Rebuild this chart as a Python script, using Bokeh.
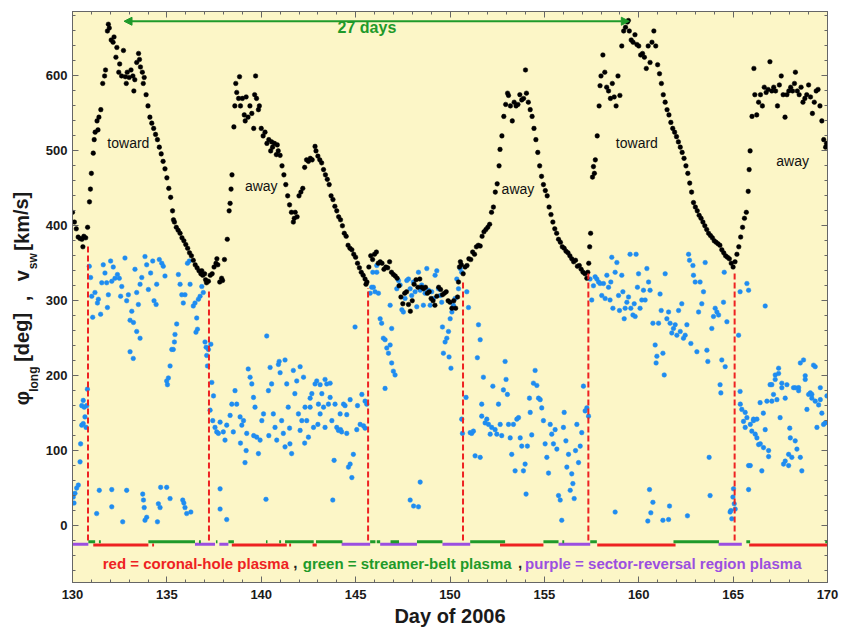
from bokeh.plotting import figure
from bokeh.models import Range1d, LinearAxis, Label, Arrow, NormalHead, FixedTicker
from bokeh.layouts import row
from bokeh.core.properties import value
from bokeh.embed import file_html
from bokeh.resources import INLINE

# ---------------- data ----------------
# solar-wind speed v_sw [km/s] : (day of 2006, value)
vsw_points = [
    (130.0,418),(130.1,405),(130.2,396),(130.3,385),(130.4,383),(130.5,382),(130.55,372),(130.6,386),(130.7,384),(130.8,398),
    (130.9,432),(130.95,449),(131.0,470),(131.1,497),(131.15,515),(131.2,525),(131.3,540),(131.35,528),(131.4,545),(131.5,555),
    (131.6,590),(131.7,600),(131.75,608),(131.85,660),(131.9,669),(131.95,664),(132.05,648),(132.15,645),(132.2,652),(132.3,625),
    (132.35,638),(132.45,605),(132.5,616),(132.6,600),(132.7,634),(132.8,599),(132.85,590),(132.9,605),(133.0,598),(133.1,608),
    (133.2,600),(133.25,580),(133.3,595),(133.4,618),(133.5,630),(133.55,622),(133.6,612),(133.7,605),(133.75,590),(133.8,598),
    (133.9,575),(134.0,560),(134.1,545),(134.2,537),(134.3,530),(134.4,522),(134.5,515),(134.6,505),(134.7,496),(134.8,486),
    (134.9,476),(135.0,464),(135.1,450),(135.2,438),(135.3,420),(135.35,408),(135.4,405),(135.5,398),(135.6,394),(135.7,390),
    (135.8,384),(135.9,380),(136.0,375),(136.1,370),(136.2,364),(136.3,360),(136.4,354),(136.5,348),(136.6,344),(136.7,340),
    (136.8,336),(136.85,340),(136.9,334),(137.0,336),(137.05,328),(137.1,324),(137.2,326),(137.3,334),(137.4,336),(137.5,345),
    (137.6,350),(137.65,356),(137.7,348),(137.8,325),(137.9,330),(137.95,327),(138.05,355),(138.2,382),(138.3,420),(138.35,430),
    (138.4,449),(138.45,468),(138.55,532),(138.6,560),(138.65,590),(138.7,578),(138.8,570),(138.85,599),(138.9,560),(139.0,570),
    (139.1,548),(139.15,540),(139.2,572),(139.3,545),(139.4,560),(139.5,550),(139.6,530),(139.65,575),(139.7,600),(139.75,570),
    (139.85,555),(139.9,560),(140.0,530),(140.1,520),(140.2,525),(140.3,510),(140.4,515),(140.5,500),(140.55,512),(140.6,505),
    (140.7,510),(140.8,495),(140.85,508),(140.9,500),(141.0,494),(141.1,480),(141.2,468),(141.3,455),(141.4,440),(141.5,428),
    (141.6,418),(141.7,405),(141.75,410),(141.8,418),(141.9,412),(142.0,440),(142.1,445),(142.2,450),(142.3,478),(142.4,488),
    (142.5,486),(142.6,490),(142.7,488),(142.85,506),(142.9,500),(143.0,493),(143.1,488),(143.2,484),(143.3,475),(143.4,468),
    (143.5,462),(143.6,455),(143.7,440),(143.8,435),(143.9,426),(144.0,420),(144.1,412),(144.2,408),(144.3,400),(144.4,390),
    (144.5,386),(144.6,374),(144.7,370),(144.8,368),(144.9,362),(145.0,358),(145.1,350),(145.2,344),(145.3,338),(145.4,334),
    (145.5,329),(145.55,322),(145.6,325),(145.7,345),(145.8,360),(145.9,355),(146.0,362),(146.1,365),(146.2,350),(146.3,352),
    (146.4,350),(146.5,342),(146.6,345),(146.7,344),(146.8,352),(146.9,338),(147.0,335),(147.1,333),(147.2,330),(147.3,320),
    (147.4,305),(147.5,296),(147.6,310),(147.7,312),(147.8,295),(147.9,286),(148.0,300),(148.1,322),(148.2,328),(148.3,318),
    (148.4,329),(148.5,318),(148.6,316),(148.7,318),(148.8,310),(148.9,312),(149.0,303),(149.1,300),(149.2,294),(149.3,306),
    (149.4,318),(149.5,315),(149.6,308),(149.7,310),(149.8,312),(149.9,300),(150.0,298),(150.1,290),(150.2,300),(150.3,290),
    (150.4,305),(150.45,325),(150.5,345),(150.55,352),(150.6,348),(150.7,336),(150.8,345),(150.9,347),(151.0,356),(151.1,355),
    (151.2,365),(151.3,362),(151.4,372),(151.5,374),(151.6,373),(151.7,386),(151.8,392),(151.9,395),(152.0,398),(152.1,402),
    (152.2,418),(152.3,425),(152.4,445),(152.5,456),(152.6,480),(152.65,502),(152.75,520),(152.85,546),(152.95,562),(153.05,577),
    (153.1,574),(153.2,560),(153.3,540),(153.4,565),(153.5,560),(153.6,562),(153.7,575),(153.8,568),(153.9,570),(154.0,608),
    (154.05,577),(154.15,565),(154.25,555),(154.35,546),(154.45,530),(154.55,515),(154.65,498),(154.75,480),(154.85,466),(154.95,455),
    (155.05,447),(155.15,440),(155.25,425),(155.35,415),(155.45,405),(155.55,396),(155.65,390),(155.75,382),(155.85,378),(155.95,372),
    (156.05,370),(156.15,366),(156.25,364),(156.35,360),(156.45,356),(156.55,352),(156.65,354),(156.75,346),(156.85,347),(156.95,342),
    (157.05,338),(157.15,336),(157.25,330),(157.3,338),(157.35,350),(157.4,372),(157.45,390),(157.55,465),(157.6,479),(157.65,470),
    (157.7,488),(157.8,520),(157.9,560),(157.95,587),(158.0,600),(158.1,628),(158.2,605),(158.3,585),(158.4,580),(158.5,570),
    (158.6,590),(158.7,572),(158.8,560),(158.9,600),(159.0,574),(159.1,640),(159.2,660),(159.3,665),(159.4,672),(159.45,674),
    (159.5,660),(159.6,648),(159.7,645),(159.8,655),(159.9,642),(160.0,640),(160.1,628),(160.2,630),(160.3,625),(160.4,610),
    (160.5,640),(160.6,618),(160.7,645),(160.8,660),(160.9,640),(161.0,615),(161.1,603),(161.2,590),(161.3,575),(161.4,565),
    (161.5,555),(161.6,548),(161.7,538),(161.8,530),(161.9,525),(162.0,519),(162.1,512),(162.2,505),(162.3,498),(162.4,490),
    (162.5,480),(162.6,470),(162.7,457),(162.8,445),(162.9,431),(163.0,425),(163.1,420),(163.2,414),(163.3,410),(163.4,405),
    (163.5,400),(163.6,395),(163.7,390),(163.8,387),(163.9,384),(164.0,380),(164.1,378),(164.2,376),(164.3,374),(164.4,368),
    (164.5,364),(164.6,360),(164.7,358),(164.8,356),(164.9,350),(165.0,345),(165.1,352),(165.2,362),(165.3,372),(165.4,385),
    (165.5,398),(165.6,410),(165.7,418),(165.8,446),(165.85,475),(165.9,500),(166.0,546),(166.1,610),(166.15,575),(166.25,548),
    (166.35,565),(166.45,575),(166.55,560),(166.65,585),(166.75,578),(166.85,582),(166.95,619),(167.05,580),(167.15,585),(167.25,580),
    (167.35,560),(167.45,588),(167.55,600),(167.65,575),(167.75,545),(167.85,575),(167.95,580),(168.05,585),(168.15,580),(168.25,590),
    (168.3,605),(168.4,580),(168.5,575),(168.6,585),(168.7,565),(168.8,570),(168.9,575),(169.0,588),(169.1,572),(169.2,550),
    (169.3,565),(169.4,580),(169.5,582),(169.6,560),(169.7,540),(169.8,515),(169.9,505),(169.95,510),
]

# magnetic-field longitude phi_long [deg] : (day of 2006, value)
phi_points = [
    (130.04,38),(130.08,30),(130.13,43),(130.22,50),(130.31,54),(130.4,85),(130.43,109),(130.49,134),(130.57,136),(130.66,145),
    (130.49,160),(130.57,167),(130.75,160),(130.79,182),(130.72,131),(130.62,158),
    (130.89,346),(130.96,331),(131.02,306),(131.07,278),(131.19,311),(131.32,297),(131.37,302),(131.49,282),(131.55,324),(131.63,348),
    (131.72,337),(131.81,324),(131.85,291),(131.9,308),(132.02,353),(132.08,326),(132.16,345),(132.25,330),(132.38,335),(132.48,330),
    (132.55,306),(132.61,319),(132.78,357),(132.87,300),(132.96,308),(133.05,274),(133.14,286),(133.23,271),(133.31,342),(133.4,311),
    (133.49,295),(133.58,322),(133.67,331),(133.84,359),(133.93,348),(134.02,315),(134.14,337),(134.25,353),(134.32,300),(134.43,295),
    (134.46,322),(134.6,355),(134.73,350),(134.81,346),(134.9,333),(134.99,193),(135.03,188),(135.17,213),(135.26,235),(135.34,235),
    (135.43,255),(135.52,269),(135.61,335),(135.7,322),(135.79,308),(135.87,297),(135.96,308),(136.09,350),(136.19,353),(136.23,322),
    (136.4,293),(136.49,297),(136.58,277),(136.67,302),(136.76,306),(136.85,319),(136.93,311),(137.08,238),(137.11,227),(137.2,235),
    (137.33,242),(137.15,213),(136.54,258),(133.05,232),(133.22,223),(133.4,259),(133.58,250),(135.08,197),(135.4,245),(136.62,262),
    (137.02,245),
    (131.42,47),(131.28,16),(132.08,48),(132.08,25),(132.66,5),(132.87,47),(133.72,42),(133.76,34),(133.8,24),(133.84,7),
    (133.93,11),(134.55,29),(134.64,24),(134.67,51),(134.99,51),(135.17,36),(135.84,34),(135.96,24),(136.05,16),(136.27,18),
    (134.5,5),(135.9,30),
    (137.38,191),(137.29,154),(137.47,173),(137.43,140),(137.55,131),(137.64,125),(137.73,123),(137.82,138),(137.99,125),(138.08,114),
    (138.17,134),(138.35,147),(138.44,162),(138.52,125),(138.61,180),(138.7,162),(138.88,145),(138.97,134),(139.06,140),(139.14,84),
    (139.23,123),(139.31,209),(139.41,198),(139.5,189),(139.59,171),(139.67,158),(139.76,118),(139.85,96),(139.94,114),(140.03,140),
    (140.12,149),(140.25,35),(140.29,253),(140.38,180),(140.47,211),(140.55,189),(140.64,149),(140.73,131),(140.82,114),(140.91,215),
    (141.0,204),(141.08,140),(141.17,123),(141.26,105),(141.35,189),(141.43,158),(141.52,109),(141.61,96),(141.7,207),(141.78,176),
    (141.88,193),(141.97,149),(142.06,127),(142.15,140),(142.24,198),(142.32,158),(142.41,140),(142.5,118),(142.59,158),(142.68,176),
    (142.77,131),(142.85,189),(142.94,193),(143.03,162),(143.12,149),(143.21,176),(143.3,158),(143.38,131),(143.47,189),(143.56,162),
    (143.65,171),(143.74,140),(143.79,34),(143.86,87),(143.91,162),(144.0,131),(144.09,127),(144.18,149),(144.26,125),(144.36,162),
    (144.44,160),(144.53,123),(144.62,78),(144.71,82),(144.8,64),(144.88,95),(144.97,265),(145.06,128),(145.24,135),(145.33,175),
    (145.42,133),(145.5,166),(145.59,162),(144.53,148),(144.71,168),(143.65,190),(143.38,195),(143.12,188),(142.59,170),(142.06,212),
    (141.26,221),(140.95,219),(137.82,49),(137.82,22),(138.17,8),(141.5,130),(140.4,120),(139.2,100),(138.9,110),(139.6,120),
    (142.3,110),(143.0,135),(144.2,128),(145.1,160),(145.5,130),
    (145.77,310),(145.85,318),(145.94,318),(146.03,312),(145.91,338),(146.12,338),(146.21,310),(146.12,347),(146.3,276),(146.38,270),
    (146.47,250),(146.56,248),(146.65,237),(146.74,230),(146.83,241),(146.91,217),(147.0,206),(147.09,201),(146.56,183),(146.91,263),
    (146.83,294),(147.18,316),(147.27,327),(147.36,321),(147.45,288),(147.53,285),(147.62,303),(147.71,327),(147.8,329),(147.89,316),
    (147.97,307),(148.06,325),(148.15,312),(148.24,292),(148.33,338),(148.42,314),(148.5,321),(148.59,294),(148.68,310),(148.77,343),
    (148.86,314),(148.95,294),(149.03,312),(149.12,303),(149.21,334),(149.3,340),(149.39,316),(149.48,307),(149.56,298),(149.65,230),
    (149.74,245),(149.83,250),(149.92,259),(150.01,276),(150.1,285),(150.18,294),(150.27,303),(150.36,329),(150.45,316),(150.54,343),
    (150.62,338),(150.89,312),(150.98,291),(149.6,265),(150.05,210),(149.95,225),
    (147.89,34),(148.07,26),(148.33,25),(148.42,58),
    (150.62,142),(150.66,123),(150.85,171),(151.07,124),(151.15,123),(151.24,126),(151.33,93),(151.51,268),(151.6,248),(151.45,224),
    (151.6,91),(151.68,162),(151.77,198),(151.68,146),(151.86,137),(151.95,142),(152.04,135),(152.13,122),(152.21,131),(152.27,186),
    (152.39,128),(152.48,122),(152.57,162),(152.66,135),(152.74,120),(152.83,181),(152.92,219),(152.97,195),(153.04,175),(153.1,135),
    (153.19,117),(153.27,95),(153.36,135),(153.45,73),(153.54,142),(153.63,144),(153.72,117),(153.8,106),(153.89,73),(153.98,82),
    (154.03,42),(154.1,106),(154.21,170),(154.25,151),(154.33,121),(154.42,190),(154.51,207),(154.6,187),(154.69,170),(154.78,168),
    (154.86,157),(154.95,140),(155.04,109),(155.13,91),(155.22,70),(155.31,135),(155.39,122),(155.48,109),(155.57,128),(155.66,102),
    (155.75,40),(155.84,34),(155.92,7),(156.01,131),(156.05,151),(156.14,113),(156.19,78),(156.28,95),(156.37,47),(156.45,69),
    (156.51,56),(156.58,36),(156.65,100),(156.72,135),(156.81,84),(156.9,106),(156.98,124),(157.07,186),(157.16,153),(157.25,157),
    (157.34,146),
    (157.42,329),(157.51,301),(157.6,320),(157.69,332),(157.78,329),(157.87,325),(157.95,323),(158.04,307),(158.13,323),(158.22,303),
    (158.31,334),(158.4,318),(158.48,301),(158.52,325),(158.57,358),(158.63,290),(158.75,338),(158.84,351),(158.93,307),(158.98,287),
    (159.1,334),(159.16,312),(159.23,276),(159.28,290),(159.37,298),(159.46,305),(159.54,362),(159.58,290),(159.69,281),(159.76,296),
    (159.81,279),(159.86,362),(159.93,318),(159.99,336),(160.07,290),(160.16,301),(160.25,314),(160.34,301),(160.43,343),(160.52,325),
    (160.6,314),(160.75,270),(160.87,241),(160.92,217),(160.96,226),(161.05,270),(161.13,309),(161.19,287),(161.28,230),(161.35,201),
    (161.4,336),(161.49,276),(161.58,285),(161.66,270),(161.75,257),(161.84,263),(161.93,268),(162.02,254),(162.11,287),(162.2,259),
    (162.28,296),(162.37,250),(162.46,254),(162.55,268),(162.64,362),(162.69,354),(162.76,243),(162.87,347),(162.9,334),(162.99,325),
    (163.08,232),(163.17,285),(163.25,325),(163.34,296),(163.43,312),(163.52,351),(163.61,234),(163.66,219),(163.73,91),(163.78,40),
    (163.87,263),(163.96,279),(164.05,290),(164.14,285),(164.23,281),(164.31,188),(164.35,177),(164.4,221),(164.49,298),(164.53,338),
    (164.58,212),(164.67,272),
    (158.75,18),(160.57,48),(160.75,31),(160.64,17),(160.48,6),(161.28,7),(161.58,8),(161.63,26),(162.58,13),(164.84,18),
    (164.88,20),(164.99,38),(165.02,49),(165.06,29),(164.93,9),(165.11,22),
    (165.29,254),(165.37,312),(165.73,323),(165.82,314),(166.7,293),(165.82,48),(165.37,179),
    (165.46,155),(165.55,139),(165.64,131),(165.73,144),(165.82,80),(165.91,135),(165.99,126),(166.08,142),(166.17,122),(166.26,142),
    (166.35,108),(166.43,164),(166.52,73),(166.61,104),(166.7,128),(166.79,166),(166.88,100),(166.96,188),(167.05,166),(167.14,175),
    (167.23,201),(167.32,168),(167.41,203),(167.49,144),(167.58,184),(167.67,82),(167.76,170),(167.85,188),(167.94,80),(168.03,117),
    (168.11,91),(168.2,184),(168.29,113),(168.38,102),(168.47,184),(168.56,91),(168.64,73),(168.73,221),(168.82,195),(168.91,155),
    (169.0,175),(169.09,177),(169.17,175),(169.26,214),(169.35,166),(169.44,131),(169.53,161),(169.62,168),(169.79,135),(169.97,173),
    (165.38,162),(165.64,151),(165.91,80),(166.08,140),(166.26,117),(166.44,109),(166.88,92),(167.05,188),(167.23,195),(167.41,210),
    (167.58,190),(167.76,86),(167.94,95),(168.29,184),(168.47,180),(168.56,217),(168.82,200),(169.17,170),(169.35,212),(169.62,184),
    (169.88,137),(169.7,150),(168.0,130),(166.6,150),
]

# sector boundaries (red dashed lines): day and upper end [units of y axis]
boundary_day = [130.82, 137.23, 145.66, 150.69, 157.33, 165.08]
boundary_top = [373, 313, 317, 327, 340, 338]

# plasma-type intervals (day start, day end)
purple_intervals = [(130.0,130.84),(136.49,137.55),(137.78,138.26),(144.26,145.77),(146.3,148.25),
                    (149.6,151.07),(155.75,157.43),(164.23,165.46)]
red_intervals = [(131.1,134.02),(134.22,134.32),(138.44,141.35),(141.48,141.58),(142.72,142.94),
                 (152.65,154.95),(157.8,161.95),(165.85,170.0)]
green_intervals = [(130.84,131.2),(131.4,131.5),(134.02,136.49),(136.7,136.8),(137.6,137.68),(138.26,138.55),
                   (140.25,140.33),(140.95,141.05),(141.26,142.78),(142.9,144.3),(145.77,146.05),(146.12,146.3),
                   (146.85,147.3),(148.25,149.6),(151.07,152.92),(154.95,155.75),(155.95,156.05),(157.43,157.78),
                   (161.84,164.25),(165.7,165.9),(169.88,170.0)]

x_ticks = [130, 135, 140, 145, 150, 155, 160, 165, 170]
y_ticks = [0, 100, 200, 300, 400, 500, 600]

# ---------------- figure ----------------
BG = "#fcf6c7"
FONT = "Liberation Sans"
GREEN = "#1f9a2a"
RED = "#ee2222"
PURPLE = "#9b4fe0"
BLUE = "#1f8cf0"
INK = "#1a1a1a"

p = figure(width=802, height=629, x_range=Range1d(130, 170), y_range=Range1d(-76, 686),
           output_backend="svg", toolbar_location=None,
           min_border_left=32, min_border_right=15, min_border_top=11, min_border_bottom=43,
           background_fill_color=BG, border_fill_color="white")
p.xgrid.visible = False
p.ygrid.visible = False
p.outline_line_color = "#666666"
p.outline_line_width = 1


def style_axis(ax, ticks, minor, labels=True):
    ax.ticker = FixedTicker(ticks=ticks, minor_ticks=minor)
    ax.major_tick_in = 6
    ax.major_tick_out = 0
    ax.minor_tick_in = 3
    ax.minor_tick_out = 0
    ax.axis_line_color = "#666666"
    ax.major_tick_line_color = "#666666"
    ax.minor_tick_line_color = "#666666"
    ax.major_label_text_font = FONT
    ax.major_label_text_font_style = "bold"
    ax.major_label_text_color = INK
    ax.major_label_text_font_size = "13px"
    if not labels:
        ax.major_label_overrides = {t: "" for t in ticks}
        ax.major_label_text_font_size = "1px"
        ax.major_label_standoff = 0


x_minor = list(range(130, 171))
y_minor = list(range(-60, 681, 20))
style_axis(p.xaxis[0], x_ticks, x_minor)
style_axis(p.yaxis[0], y_ticks, y_minor)
p.yaxis[0].major_label_standoff = 5
p.xaxis[0].major_label_standoff = 7
p.xaxis[0].axis_label = "Day of 2006"
p.xaxis[0].axis_label_text_font = FONT
p.xaxis[0].axis_label_text_font_style = "bold"
p.xaxis[0].axis_label_text_font_size = "20px"
p.xaxis[0].axis_label_text_color = INK
p.xaxis[0].axis_label_standoff = 3

ax_r = LinearAxis()
style_axis(ax_r, y_ticks, y_minor, labels=False)
p.add_layout(ax_r, "right")
ax_t = LinearAxis()
style_axis(ax_t, x_ticks, x_minor, labels=False)
p.add_layout(ax_t, "above")

# phi points (blue) then v_sw points (black)
p.scatter([d for d, v in phi_points], [v for d, v in phi_points], size=4.6,
          fill_color=BLUE, line_color=BLUE, line_width=0.5)
p.scatter([d for d, v in vsw_points], [v for d, v in vsw_points], size=4.6,
          fill_color="black", line_color="black", line_width=0.5)

# sector-boundary dashed lines
p.segment(x0=boundary_day, y0=[-20] * len(boundary_day), x1=boundary_day, y1=boundary_top,
          line_color=RED, line_width=2, line_dash="6 3")

# plasma-type bars
for intervals, yv, col in ((purple_intervals, -25, PURPLE), (red_intervals, -26, RED),
                           (green_intervals, -21.5, GREEN)):
    p.segment(x0=[a for a, b in intervals], y0=[yv] * len(intervals),
              x1=[b for a, b in intervals], y1=[yv] * len(intervals),
              line_color=col, line_width=3)

# 27 days arrow
p.add_layout(Arrow(start=NormalHead(size=8, fill_color=GREEN, line_color=GREEN),
                   end=NormalHead(size=8, fill_color=GREEN, line_color=GREEN),
                   x_start=132.73, y_start=673, x_end=159.5, y_end=673,
                   line_color=GREEN, line_width=2))
p.add_layout(Label(x=145.6, y=664, text="27 days", text_color=GREEN, text_font=FONT,
                   text_font_style="bold", text_font_size="16px",
                   text_align="center", text_baseline="middle"))

# polarity labels
for xx, yy, t in ((132.96, 510, "toward"), (140.0, 453, "away"), (153.6, 449, "away"),
                  (159.9, 510, "toward"), (168.15, 487, "away")):
    p.add_layout(Label(x=xx, y=yy, text=t, text_color="#111111", text_font=FONT,
                       text_font_size="14px", text_align="center", text_baseline="middle"))

# legend line inside plot
for xx, t, col in ((131.6, "red = coronal-hole plasma", RED), (141.7, ",", "#222222"),
                   (142.2, "green = streamer-belt plasma", GREEN), (153.6, ",", "#222222"),
                   (153.98, "purple = sector-reversal region plasma", PURPLE)):
    p.add_layout(Label(x=xx, y=-50, text=t, text_color=col, text_font=FONT,
                       text_font_style="bold", text_font_size="15px",
                       text_align="left", text_baseline="middle"))

# ---------------- y-axis title (separate narrow panel, pixel coords) ----------------
lab = figure(width=40, height=629, x_range=Range1d(0, 40), y_range=Range1d(0, 629),
             output_backend="svg", toolbar_location=None, x_axis_location=None, y_axis_location=None,
             min_border_left=0, min_border_right=0, min_border_top=0, min_border_bottom=0,
             background_fill_color="white", border_fill_color="white")
lab.outline_line_color = None
lab.grid.visible = False
main_x = [21, 21, 22, 21, 21]
main_y = [629 - 426, 629 - 359, 629 - 316, 629 - 291, 629 - 231]
main_t = ["\u03c6", "[deg]", ",", "v", "[km/s]"]
lab.text(x=main_x, y=main_y, text=main_t, angle=1.5708, text_color=INK,
         text_font=value(FONT), text_font_style="bold", text_font_size="20px",
         text_align="center", text_baseline="middle")
lab.text(x=[33, 32], y=[629 - 405, 629 - 275], text=["long", "sw"], angle=1.5708, text_color=INK,
         text_font=value(FONT), text_font_style="bold", text_font_size="12px",
         text_align="center", text_baseline="middle")

open("out.html", "w").write(file_html(row(lab, p), INLINE))
